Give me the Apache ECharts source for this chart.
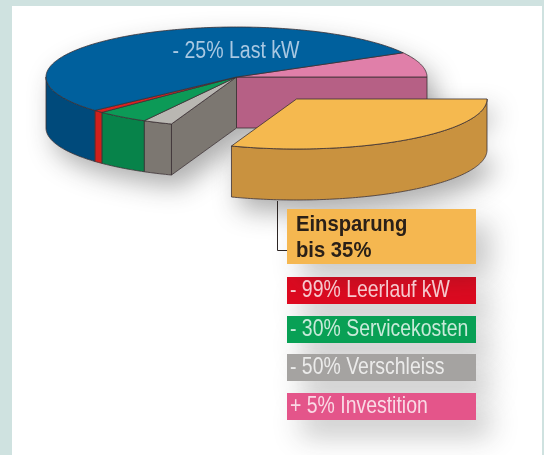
<!DOCTYPE html>
<html>
<head>
<meta charset="utf-8">
<style>html,body{margin:0;padding:0;background:#cfe2e0}</style>
<script src="https://cdn.jsdelivr.net/npm/echarts@6/dist/echarts.min.js"></script>
</head>
<body>
<div id="main" style="width:544px;height:455px"></div>
<script>
// slices, clockwise from the pink one
const sliceNames = ['Investition', 'Einsparung', 'Verschleiss', 'Servicekosten', 'Leerlauf kW', 'Last kW']
const sliceValues = [8.05, 30.55, 2.5, 4.45, 0.85, 53.6]
const topColors = ['#e07fa9', '#f5b94f', '#b9b7b2', '#0c9a57', '#e0201f', '#00609d']
const sideColors = ['#b66085', '#c9923f', '#7c7771', '#07834a', '#d0201c', '#004a7b']
const pulledOut = 'Einsparung'

const pieLabel = '- 25% Last kW'
const legendLabels = ['- 99% Leerlauf kW', '- 30% Servicekosten', '- 50% Verschleiss', '+ 5% Investition']
const legendColors = ['#de0a20', '#08a055', '#a5a3a1', '#e4558a']
const legendTitle = ['Einsparung', 'bis 35%']

const cx = 236.5, cy = 77, rx = 190.5, ry = 50, depth = 51
const pullX = 60, pullY = 22
const startDeg = -29
const edge = '#3b3033'
const font = '"Liberation Sans", sans-serif'

const total = sliceValues.reduce((a, b) => a + b, 0)

function rim (deg, ox, oy) {
  const t = deg * Math.PI / 180
  return [cx + ox + rx * Math.cos(t), cy + oy + ry * Math.sin(t)]
}

function arc (a, b, ox, oy) {
  const pts = []
  const n = Math.max(2, Math.ceil(Math.abs(b - a)))
  for (let i = 0; i <= n; i++) pts.push(rim(a + (b - a) * i / n, ox, oy))
  return pts
}

function poly (points, fill, z2) {
  return {
    type: 'polygon',
    z2: z2,
    shape: { points: points },
    style: { fill: fill, stroke: edge, lineWidth: 0.8 }
  }
}

function sliceRange (i) {
  let a = startDeg
  for (let k = 0; k < i; k++) a += sliceValues[k] / total * 360
  return [a, a + sliceValues[i] / total * 360]
}

function renderSlice (params) {
  const i = params.dataIndex
  const [a, b] = sliceRange(i)
  const out = sliceNames[i] === pulledOut
  const ox = out ? pullX : 0
  const oy = out ? pullY : 0
  const z = out ? 30 : 0
  const kids = []
  const c = [cx + ox, cy + oy]

  // cut faces where the pulled slice left the pie
  if (!out && sliceNames[(i + 1) % sliceNames.length] === pulledOut) {
    const p = rim(b, 0, 0)
    kids.push(poly([c, p, [p[0], p[1] + depth], [c[0], c[1] + depth]], sideColors[i], z))
  }
  if (!out && sliceNames[i - 1] === pulledOut) {
    const p = rim(a, 0, 0)
    kids.push(poly([c, p, [p[0], p[1] + depth], [c[0], c[1] + depth]], sideColors[i], z))
  }

  // outer wall, only the front half shows
  const wa = Math.max(a, 0)
  const wb = Math.min(b, 180)
  if (wb > wa) {
    const up = arc(wa, wb, ox, oy)
    const down = arc(wb, wa, ox, oy + depth)
    kids.push(poly(up.concat(down), sideColors[i], z + 1))
  }

  kids.push(poly([c].concat(arc(a, b, ox, oy)), topColors[i], z + 2))

  if (sliceNames[i] === 'Last kW') {
    kids.push({
      type: 'text',
      z2: z + 3,
      x: 236,
      y: 52,
      scaleX: 0.85,
      style: { x: 0, y: 0, text: pieLabel, fill: '#a9c8e2', font: '23px ' + font, align: 'center', verticalAlign: 'middle' }
    })
  }
  return { type: 'group', children: kids }
}

function renderPieShadow (params) {
  const [oa, ob] = sliceRange(sliceNames.indexOf(pulledOut))
  const whole = params.dataIndex === 0
  const pts = whole
    ? [[cx, cy + depth]].concat(arc(ob, 180, 0, depth), arc(180, 360, 0, 0), [rim(0, 0, depth)])
    : [[cx + pullX, cy + pullY]].concat(arc(oa, ob, pullX, pullY), arc(ob, oa, pullX, pullY + depth))
  return {
    type: 'polygon',
    shape: { points: pts },
    style: { fill: '#fff', shadowColor: 'rgba(40,40,40,0.38)', shadowBlur: 26, shadowOffsetX: 8, shadowOffsetY: 12 }
  }
}

const boxX = 287, boxW = 189
const boxTops = [277, 316, 354, 393]
const boxH = 27

function renderLegend (params) {
  const i = params.dataIndex
  return {
    type: 'group',
    children: [{
      type: 'rect',
      shape: { x: boxX, y: boxTops[i], width: boxW, height: boxH },
      style: { fill: legendColors[i], shadowColor: 'rgba(40,40,40,0.26)', shadowBlur: 28, shadowOffsetX: 14, shadowOffsetY: 16 }
    }, {
      type: 'text',
      z2: 5,
      x: boxX + 3,
      y: boxTops[i] + boxH / 2,
      scaleX: 0.81,
      style: { x: 0, y: 0, text: legendLabels[i], fill: 'rgba(255,255,255,0.78)', font: '24px ' + font, verticalAlign: 'middle' }
    }]
  }
}

function renderTitle () {
  const line = (text, y) => ({
    type: 'text',
    z2: 5,
    x: 296,
    y: y,
    scaleX: 0.92,
    style: { x: 0, y: 0, text: text, fill: '#2a2018', font: 'bold 22px ' + font, verticalAlign: 'middle' }
  })
  return {
    type: 'group',
    children: [{
      type: 'rect',
      shape: { x: boxX, y: 209, width: boxW, height: 55 },
      style: { fill: '#f5b750', shadowColor: 'rgba(40,40,40,0.26)', shadowBlur: 28, shadowOffsetX: 14, shadowOffsetY: 14 }
    }, {
      type: 'polyline',
      shape: { points: [[277.5, 201], [277.5, 250.5], [287, 250.5]] },
      style: { fill: 'none', stroke: '#2c2524', lineWidth: 1 }
    }, line(legendTitle[0], 225), line(legendTitle[1], 251)]
  }
}

const chart = echarts.init(document.getElementById('main'), null, { renderer: 'canvas' })
chart.setOption({
  backgroundColor: '#cfe2e0',
  animation: false,
  graphic: [{
    type: 'rect',
    z: -10,
    shape: { x: 12, y: 6, width: 530, height: 449 },
    style: { fill: '#ffffff' }
  }],
  series: [
    { type: 'custom', coordinateSystem: 'none', silent: true, z: 1, data: [0, 1], renderItem: renderPieShadow },
    { type: 'custom', coordinateSystem: 'none', silent: true, z: 2, data: legendLabels, renderItem: renderLegend },
    { type: 'custom', coordinateSystem: 'none', silent: true, z: 2, data: legendTitle.slice(0, 1), renderItem: renderTitle },
    { type: 'custom', coordinateSystem: 'none', silent: true, z: 3, data: sliceValues, renderItem: renderSlice }
  ]
})
</script>
</body>
</html>
